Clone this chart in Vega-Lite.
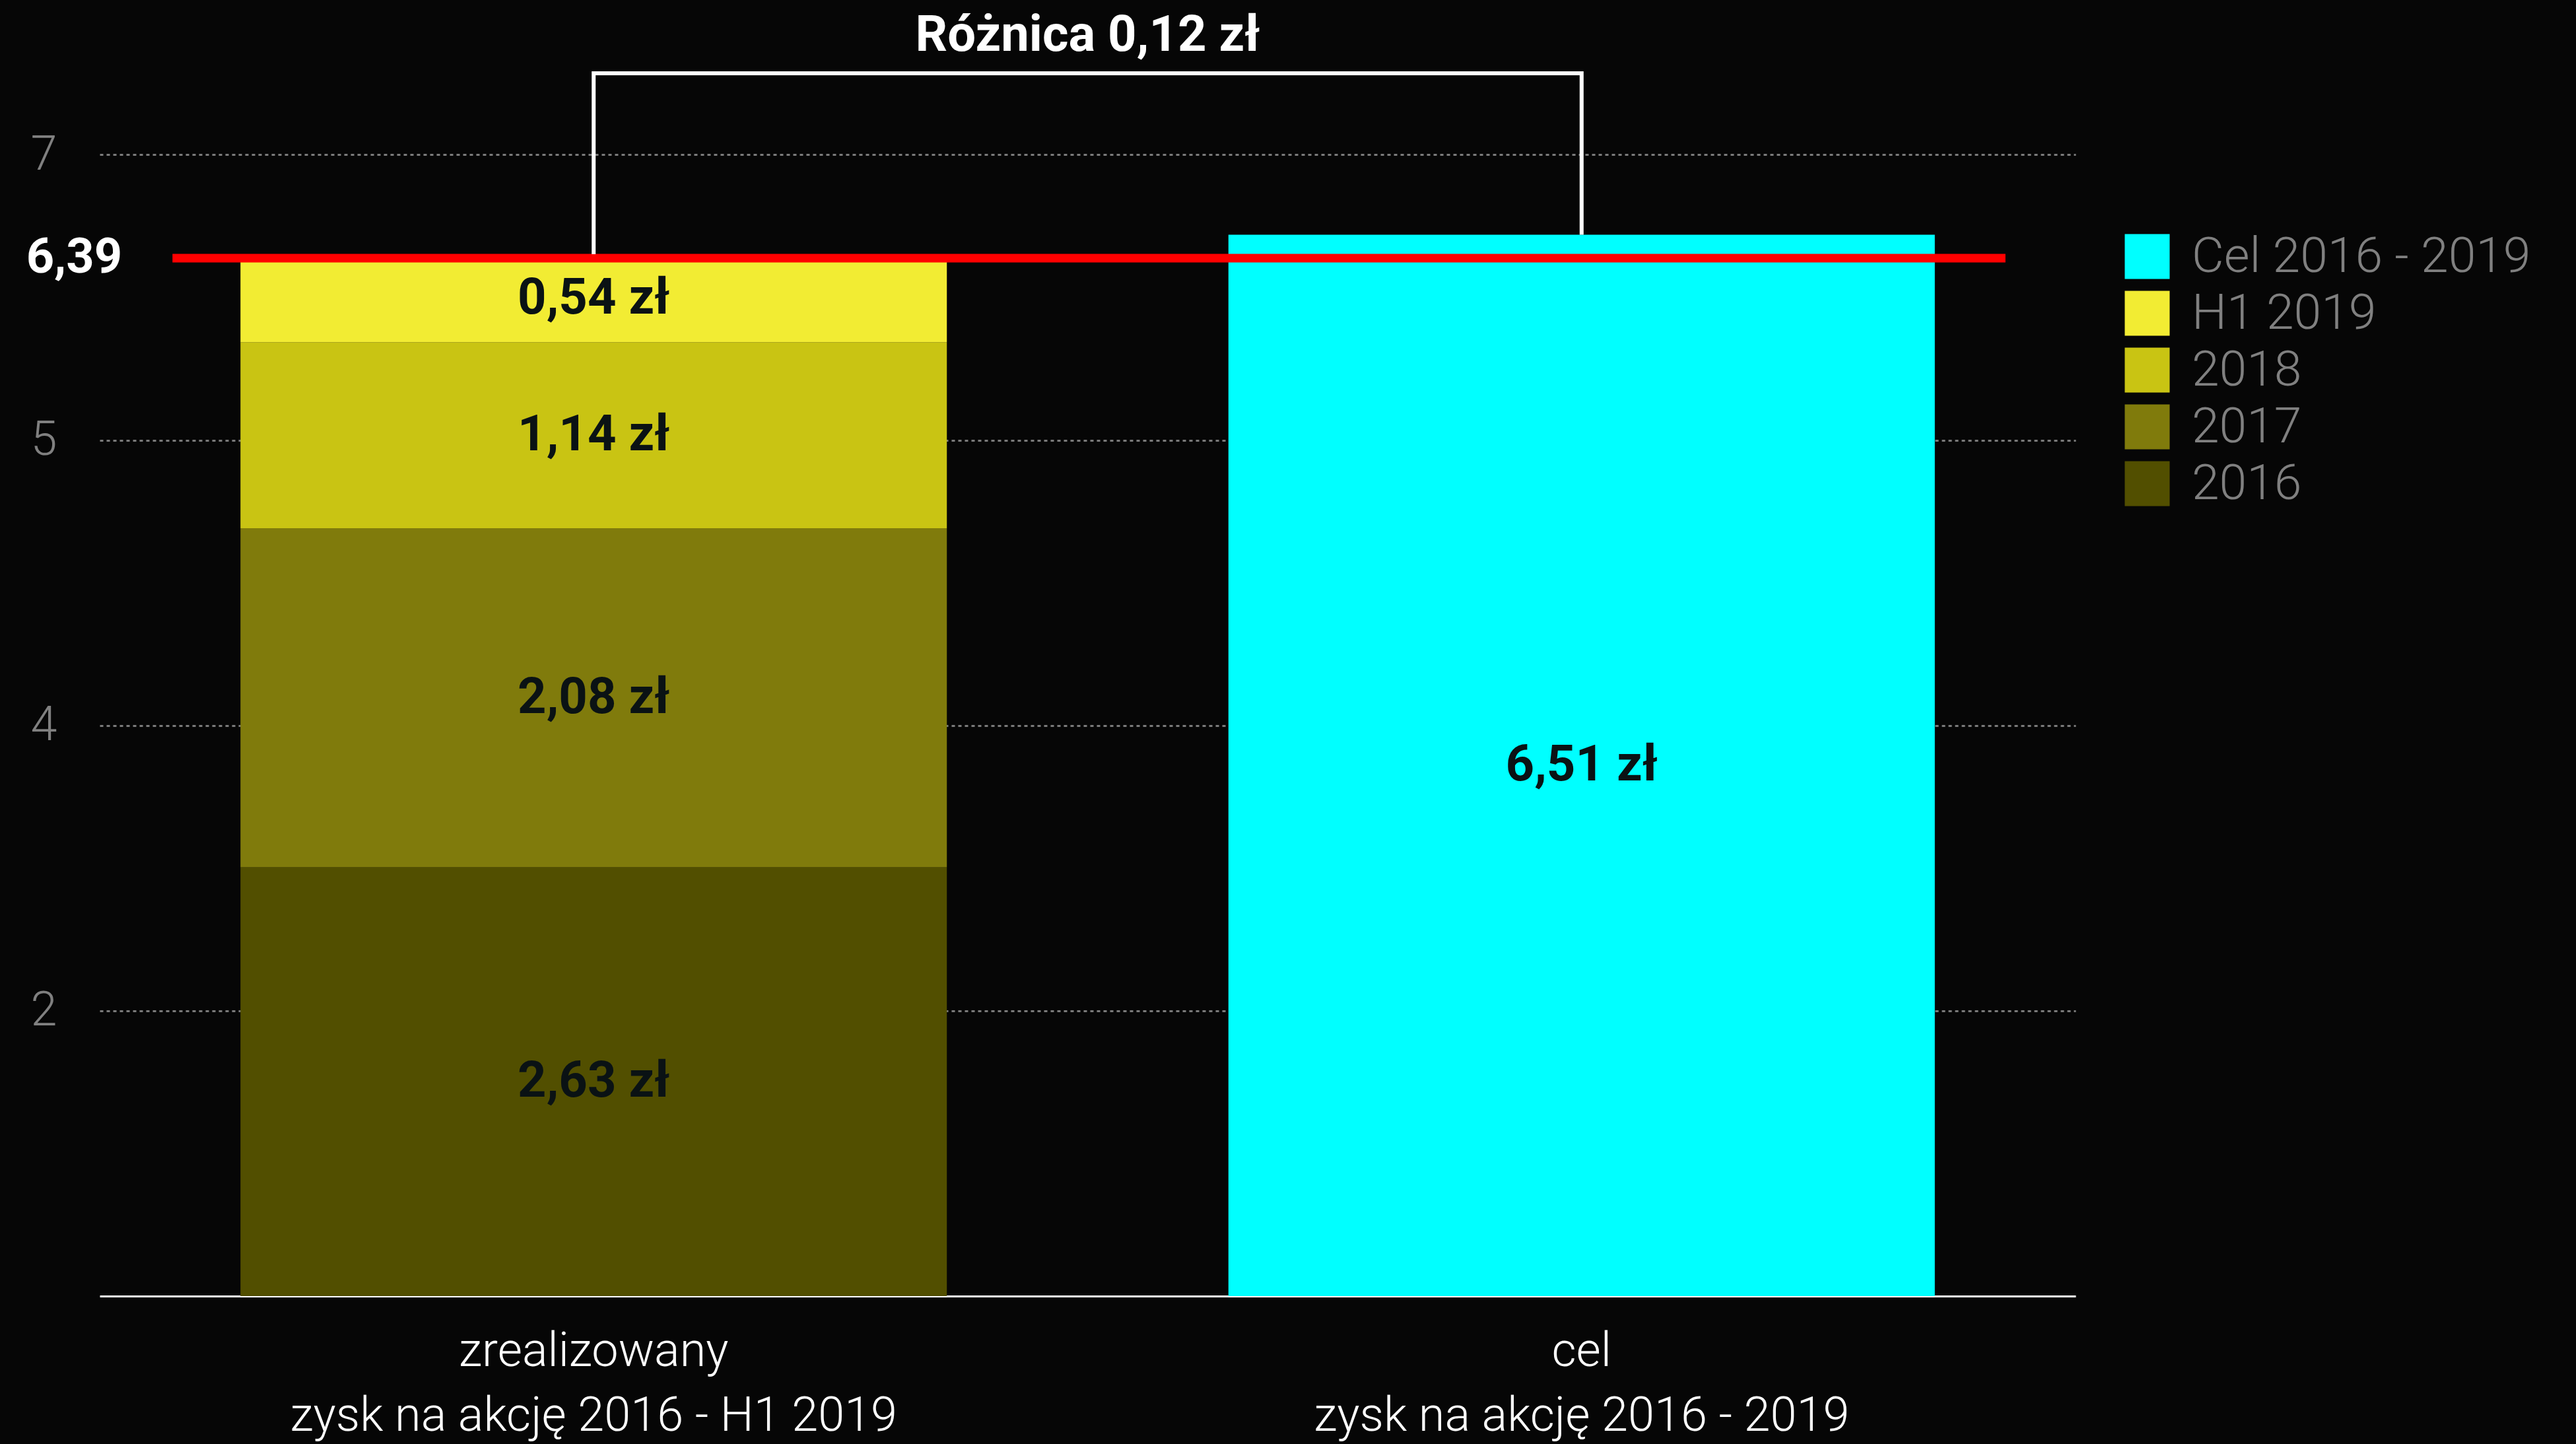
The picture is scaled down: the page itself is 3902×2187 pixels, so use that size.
{
  "$schema": "https://vega.github.io/schema/vega-lite/v6.json",
  "width": 2993,
  "height": 1852,
  "autosize": {"type": "none"},
  "padding": {"left": 151, "top": 111, "right": 758, "bottom": 224},
  "background": "#060606",
  "title": {"text": "Różnica 0,12 zł", "fontSize": 76, "fontWeight": "bold", "color": "#ffffff", "anchor": "middle", "baseline": "alphabetic", "offset": 31, "dy": 85, "font": "Roboto"},
  "config": {
    "font": "Roboto",
    "view": {"stroke": null},
    "locale": {"number": {"decimal": ",", "thousands": " ", "grouping": [3], "currency": ["", " zł"]}}
  },
  "datasets": {
    "bars": [
      {"bar": "zrealizowany|zysk na akcję 2016 - H1 2019", "series": "2016", "value": 2.63, "ord": 1},
      {"bar": "zrealizowany|zysk na akcję 2016 - H1 2019", "series": "2017", "value": 2.08, "ord": 2},
      {"bar": "zrealizowany|zysk na akcję 2016 - H1 2019", "series": "2018", "value": 1.14, "ord": 3},
      {"bar": "zrealizowany|zysk na akcję 2016 - H1 2019", "series": "H1 2019", "value": 0.54, "ord": 4},
      {"bar": "cel|zysk na akcję 2016 - 2019", "series": "Cel 2016 - 2019", "value": 6.51, "ord": 1}
    ],
    "bracket": [
      {"bar": "zrealizowany|zysk na akcję 2016 - H1 2019", "value": 6.39, "i": 1},
      {"bar": "zrealizowany|zysk na akcję 2016 - H1 2019", "value": 7.5, "i": 2},
      {"bar": "cel|zysk na akcję 2016 - 2019", "value": 7.5, "i": 3},
      {"bar": "cel|zysk na akcję 2016 - 2019", "value": 6.51, "i": 4}
    ],
    "target": [
      {"bar": "zrealizowany|zysk na akcję 2016 - H1 2019", "to": "cel|zysk na akcję 2016 - 2019", "value": 6.39}
    ]
  },
  "layer": [
    {
      "data": {"name": "bars"},
      "mark": {"type": "bar"},
      "encoding": {
        "x": {
          "field": "bar", "type": "nominal",
          "scale": {"domain": ["zrealizowany|zysk na akcję 2016 - H1 2019", "cel|zysk na akcję 2016 - 2019"], "paddingInner": 0.285, "paddingOuter": 0.1425},
          "axis": {"title": null, "labelExpr": "split(datum.value, '|')", "labelAngle": 0, "labelFontSize": 72, "labelColor": "#ffffff", "labelFontWeight": 300, "labelLineHeight": 98, "labelPadding": 48, "labelLimit": 2000, "ticks": false, "domainColor": "#ffffff", "domainWidth": 3, "grid": false}
        },
        "y": {
          "field": "value", "type": "quantitative",
          "scale": {"domain": [0, 7.5], "nice": false},
          "axis": {"title": null, "values": [1.75, 3.5, 5.25, 7], "format": ".0f", "labelFontSize": 72, "labelColor": "#808080", "labelFontWeight": 300, "labelPadding": 65, "ticks": false, "domain": false, "grid": true, "gridColor": "#7a7a7a", "gridDash": [5, 5], "gridWidth": 3}
        },
        "color": {
          "field": "series", "type": "nominal",
          "scale": {"domain": ["Cel 2016 - 2019", "H1 2019", "2018", "2017", "2016"], "range": ["#00FFFF", "#F2EC33", "#C9C413", "#807B0C", "#524F00"]},
          "legend": {"title": null, "orient": "none", "legendX": 3064, "legendY": 240, "symbolType": "square", "symbolSize": 4624, "symbolStrokeWidth": 0, "symbolOpacity": 1, "labelFontSize": 75, "labelColor": "#808080", "labelFontWeight": 300, "labelOffset": 30, "labelLimit": 1000, "rowPadding": 10, "padding": 0}
        },
        "order": {"field": "ord", "type": "quantitative"}
      }
    },
    {
      "data": {"name": "bars"},
      "mark": {"type": "text", "fontSize": 76, "fontWeight": "bold", "color": "#0a1214", "baseline": "middle", "align": "center"},
      "encoding": {
        "x": {"field": "bar", "type": "nominal"},
        "y": {"field": "value", "type": "quantitative", "stack": "zero", "bandPosition": 0.5},
        "detail": {"field": "series"},
        "order": {"field": "ord", "type": "quantitative"},
        "text": {"field": "value", "type": "quantitative", "format": "$.2f"}
      }
    },
    {
      "data": {"name": "target"},
      "mark": {"type": "rule", "color": "#ff0000", "strokeWidth": 13, "xOffset": -103, "x2Offset": 107, "yOffset": 6},
      "encoding": {
        "x": {"field": "bar", "type": "nominal", "bandPosition": 0},
        "x2": {"field": "to", "bandPosition": 1},
        "y": {"field": "value", "type": "quantitative"}
      }
    },
    {
      "data": {"name": "target"},
      "mark": {"type": "text", "fontSize": 74, "fontWeight": "bold", "color": "#ffffff", "align": "right", "baseline": "middle", "dx": -179, "yOffset": 6},
      "encoding": {
        "x": {"field": "bar", "type": "nominal", "bandPosition": 0},
        "y": {"field": "value", "type": "quantitative"},
        "text": {"field": "value", "type": "quantitative", "format": ".2f"}
      }
    },
    {
      "data": {"name": "bracket"},
      "mark": {"type": "line", "color": "#ffffff", "strokeWidth": 6, "strokeJoin": "miter"},
      "encoding": {
        "x": {"field": "bar", "type": "nominal"},
        "y": {"field": "value", "type": "quantitative"},
        "order": {"field": "i", "type": "quantitative"}
      }
    }
  ]
}
